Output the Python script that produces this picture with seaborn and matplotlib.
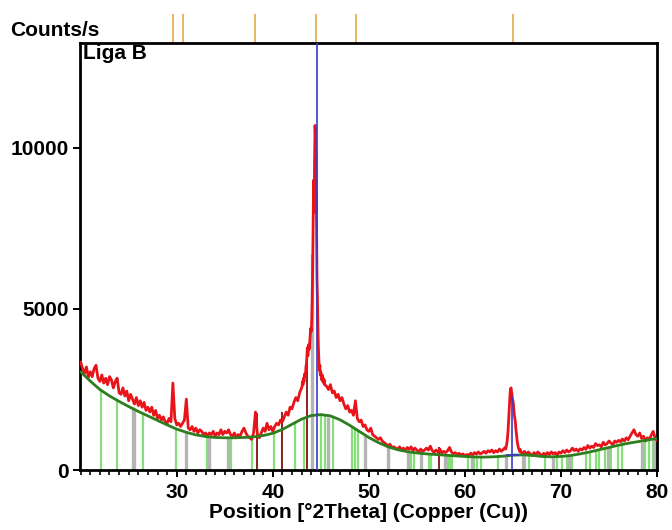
import numpy as np
import pandas as pd
import matplotlib
matplotlib.use("Agg")
import matplotlib.pyplot as plt
import matplotlib.transforms as mtransforms
import seaborn as sns

# ---------------- measured pattern (Counts/s), split into scan segments ----------------
# segment 1: 20.0 - 43.0 deg, step 0.2
seg1_start, seg1_step = 20.0, 0.2
seg1_counts = [
    3350, 3150, 3000, 3200, 2880, 3050, 2900, 3150, 3250, 2850,
    2750, 2950, 2700, 2850, 2650, 2900, 2800, 2550, 2750, 2850,
    2400, 2350, 2550, 2300, 2450, 2150, 2350, 2200, 2050, 2250,
    2000, 2150, 1950, 2100, 1850, 1950, 1800, 1950, 1700, 1850,
    1600, 1700, 1550, 1650, 1500, 1450, 1600, 1500, 2700, 1600,
    1400, 1450, 1350, 1450, 1550, 2200, 1300, 1250, 1350, 1200,
    1300, 1150, 1250, 1200, 1100, 1150, 1050, 1150, 1100, 1200,
    1050, 1150, 1100, 1250, 1100, 1200, 1150, 1250, 1100, 1050,
    1150, 1000, 1100, 1050, 1200, 1300, 1150, 1050, 1000, 950,
    1150, 1800, 1100, 1000, 1150, 1300, 1200, 1450, 1250, 1350,
    1200, 1350, 1450, 1400, 1550, 1500, 1650, 1800, 1700, 1950,
    1900, 2100, 2250, 2150, 2400, 2550,
]
# segment 2: 43.05 - 45.40 deg, step 0.05 (main reflection)
seg2_start, seg2_step = 43.05, 0.05
seg2_counts = [
    2600, 2750, 2650, 2850, 2750, 2950, 3000, 2900, 3200, 3300,
    3500, 3800, 3550, 3700, 3900, 3750, 4000, 4200, 4400, 4300,
    4600, 5200, 6200, 7500, 9000, 8000, 9600, 10700, 10300, 9800,
    7800, 6000, 5300, 4400, 3800, 3400, 3100, 3250, 2950, 3050,
    2900, 2800, 2950, 2750, 2850, 2700, 2800, 2650,
]
# segment 3: 45.6 - 64.2 deg, step 0.2
seg3_start, seg3_step = 45.6, 0.2
seg3_counts = [
    2600, 2500, 2650, 2400, 2450, 2250, 2350, 2150, 2250, 2050,
    1900, 2000, 1800, 1850, 1700, 2150, 1600, 1500, 1550, 1350,
    1400, 1250, 1200, 1300, 1100, 1050, 1000, 950, 1000, 900,
    850, 800, 750, 800, 700, 720, 680, 650, 720, 620,
    680, 600, 700, 640, 720, 600, 680, 620, 560, 650,
    580, 620, 680, 620, 740, 600, 550, 620, 560, 650,
    520, 580, 540, 600, 700, 560, 500, 540, 480, 520,
    460, 500, 440, 480, 460, 520, 470, 540, 490, 560,
    500, 530, 580, 520, 600, 560, 620, 540, 600, 560,
    650, 580, 640, 700,
]
# segment 4: 64.25 - 65.80 deg, step 0.05 (second reflection)
seg4_start, seg4_step = 64.25, 0.05
seg4_counts = [
    650, 720, 800, 900, 1050, 1250, 1500, 1800, 2100, 2350,
    2500, 2550, 2450, 2350, 2200, 2150, 2050, 1850, 1700, 1600,
    1500, 1300, 1150, 1000, 880, 800, 720, 660, 620, 580,
    640, 560,
]
# segment 5: 66.0 - 80.0 deg, step 0.2
seg5_start, seg5_step = 66.0, 0.2
seg5_counts = [
    520, 580, 480, 560, 500, 450, 540, 480, 560, 500,
    440, 520, 470, 540, 480, 560, 500, 540, 460, 560,
    520, 600, 540, 620, 560, 600, 680, 600, 650, 580,
    660, 620, 700, 640, 760, 680, 740, 700, 820, 760,
    780, 720, 860, 780, 820, 900, 840, 780, 900, 860,
    920, 880, 960, 900, 1000, 940, 1050, 1150, 1250, 1100,
    1050, 1150, 980, 1050, 900, 1000, 950, 1080, 1200, 1000,
    920,
]

# fitted background, 1 deg steps from 20 to 80
bg_angle = list(range(20, 81))
bg_counts = [
    3050, 2760, 2500, 2300, 2130, 1970, 1820, 1680, 1540, 1400,
    1270, 1170, 1090, 1040, 1010, 1000, 1000, 1010, 1030, 1070,
    1140, 1260, 1420, 1580, 1690, 1720, 1680, 1560, 1390, 1200,
    1010, 850, 720, 630, 570, 530, 500, 480, 460, 440,
    420, 405, 400, 410, 430, 460, 470, 455, 420, 410,
    420, 450, 500, 560, 630, 700, 770, 830, 880, 930,
    980,
]

# reference pattern sticks (position deg, height counts)
green_pos = [22.1, 23.8, 26.5, 29.9, 33.2, 35.7, 37.8, 40.1, 42.3, 43.3,
             45.0, 45.4, 46.3, 48.2, 48.6, 48.9, 52.1, 54.4, 54.7, 56.3,
             56.5, 58.2, 58.5, 58.7, 60.3, 61.0, 61.3, 61.7, 63.4, 66.3,
             66.7, 68.3, 69.6, 70.1, 70.6, 71.1, 72.6, 73.0, 73.6, 74.0,
             74.6, 75.2, 75.9, 76.4, 78.8, 79.2, 79.6]
green_h = [2450, 2150, 1750, 1300, 1050, 1000, 1000, 1150, 1450, 1600,
           1700, 1700, 1650, 1350, 1300, 1200, 700, 560, 540, 500,
           500, 460, 460, 450, 420, 410, 400, 400, 420, 460,
           450, 420, 410, 420, 430, 450, 520, 550, 600, 630,
           670, 710, 760, 1000, 900, 920, 950]
grey_pos = [25.4, 25.6, 31.0, 33.4, 35.3, 44.05, 45.7, 49.6, 52.0, 54.1,
            55.4, 57.9, 60.7, 64.3, 66.0, 69.2, 70.8, 74.9, 78.4, 79.8]
grey_h = [1950, 1900, 1200, 1050, 1000, 6700, 1650, 1100, 720, 560,
          520, 460, 420, 440, 460, 410, 440, 700, 880, 960]
brown_pos = [38.4, 41.0, 43.6, 57.3]
brown_h = [1770, 1800, 3790, 700]
blue_pos = [44.62, 64.9]
blue_h = [14000, 2300]

# peak list markers above the frame
peak_marks = [29.6, 30.7, 38.2, 44.55, 48.65, 65.0]

x_ticks = [30, 40, 50, 60, 70, 80]
y_ticks = [0, 5000, 10000]

# ---------------- assemble ----------------
def segment(start, step, vals):
    return start + step * np.arange(len(vals)), np.asarray(vals, float)

parts = [segment(seg1_start, seg1_step, seg1_counts),
         segment(seg2_start, seg2_step, seg2_counts),
         segment(seg3_start, seg3_step, seg3_counts),
         segment(seg4_start, seg4_step, seg4_counts),
         segment(seg5_start, seg5_step, seg5_counts)]
scan = pd.DataFrame({
    "two_theta": np.concatenate([p[0] for p in parts]),
    "counts": np.concatenate([p[1] for p in parts]),
})
background = pd.DataFrame({"two_theta": bg_angle, "counts": bg_counts})

sns.set_style("ticks")
plt.rcParams["font.family"] = ["Liberation Sans", "DejaVu Sans"]
plt.rcParams["font.weight"] = "bold"
plt.rcParams["text.color"] = "black"
plt.rcParams["axes.labelcolor"] = "black"
plt.rcParams["xtick.color"] = "black"
plt.rcParams["ytick.color"] = "black"

fig = plt.figure(figsize=(6.72, 5.30), dpi=100)
ax = fig.add_axes([80 / 672, 1 - 470 / 530, 577 / 672, 427 / 530])

# reference sticks
ax.vlines(green_pos, 0, green_h, color="#86e07a", lw=1.6, zorder=1)
ax.vlines(grey_pos, 0, grey_h, color="#b4b4b4", lw=2.4, zorder=1)
ax.vlines(brown_pos, 0, brown_h, color="#8e2020", lw=1.4, zorder=2)

# measured scan and background
sns.lineplot(data=scan, x="two_theta", y="counts", ax=ax, color="#e8141a",
             lw=2.0, zorder=3, estimator=None, sort=False)
sns.lineplot(data=background, x="two_theta", y="counts", ax=ax,
             color="#2e7d1e", lw=2.0, zorder=4, estimator=None)

# phase lines on top
ax.vlines(blue_pos, 0, blue_h, color="#3a3ac8", lw=1.2, zorder=5)
ax.hlines(480, 64.3, 65.6, color="#3a3ac8", lw=1.2, zorder=5)

# peak list markers above the plot frame
trans = mtransforms.blended_transform_factory(ax.transData, ax.transAxes)
ax.vlines(peak_marks, 1.0, 1.0 + 29 / 427, transform=trans, color="#e2a23a",
          lw=1.1, clip_on=False)

ax.set_xlim(19.93, 80.0)
ax.set_ylim(0, 13260)
ax.set_xticks(x_ticks)
ax.set_xticks(np.arange(20, 81, 1), minor=True)
ax.set_yticks(y_ticks)
ax.tick_params(axis="both", which="major", direction="out", length=5,
               width=1.4, labelsize=15, color="black", labelcolor="black")
ax.tick_params(axis="x", which="major", pad=4)
ax.tick_params(axis="y", which="major", pad=3)
ax.tick_params(axis="x", which="minor", direction="out", length=3.5,
               width=1.2, color="black")
for lab in ax.get_xticklabels() + ax.get_yticklabels():
    lab.set_fontweight("bold")
for sp in ax.spines.values():
    sp.set_visible(True)
    sp.set_linewidth(2.0)
    sp.set_color("black")

ax.set_xlabel("Position [°2Theta] (Copper (Cu))", fontsize=15,
              fontweight="bold", labelpad=1, color="black")
ax.set_ylabel("")
fig.text(10 / 672, 1 - 30 / 530, "Counts/s", fontsize=15, fontweight="bold",
         ha="left", va="center", color="black")
ax.text(0.006, 0.975, "Liga B", transform=ax.transAxes, fontsize=15,
        fontweight="bold", ha="left", va="center", color="black")

fig.savefig("out.png", dpi=100)
